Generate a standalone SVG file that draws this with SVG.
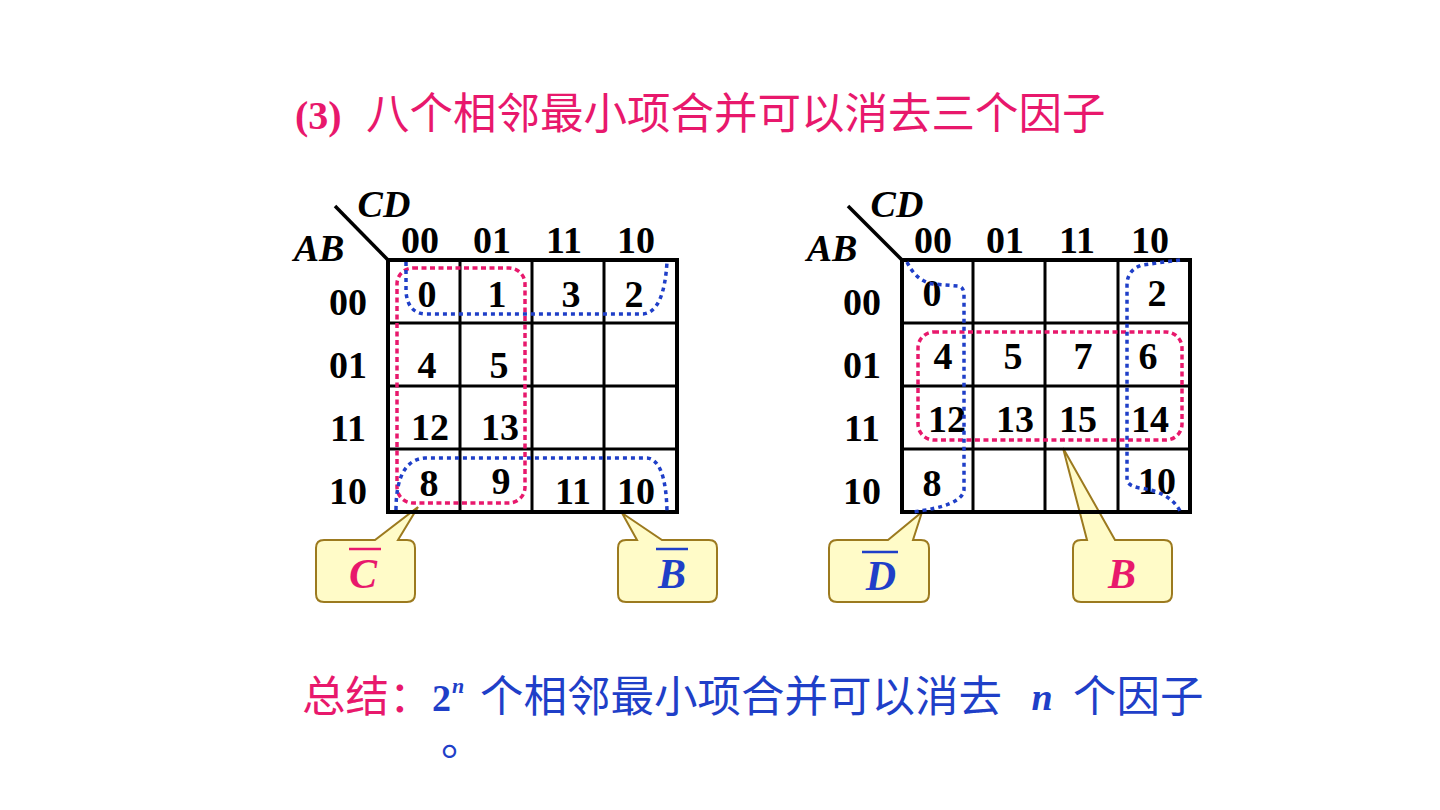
<svg xmlns="http://www.w3.org/2000/svg" width="1440" height="810" viewBox="0 0 1440 810">
<style>
.cjk{font-family:"Noto Sans CJK SC",sans-serif;font-size:43.5px}
.num{font-family:"Liberation Serif",serif;font-weight:bold;font-size:38px;fill:#000;text-anchor:middle}
.var{font-family:"Liberation Serif",serif;font-weight:bold;font-style:italic;font-size:38px;fill:#000;text-anchor:middle}
.lbl{font-family:"Liberation Serif",serif;font-weight:bold;font-style:italic;font-size:42px;text-anchor:middle}
.grid{fill:none;stroke:#000;stroke-width:3}
.frame{fill:none;stroke:#000;stroke-width:4}
.red{fill:none;stroke:#E8186C;stroke-width:3.5;stroke-dasharray:5 3.5}
.blue{fill:none;stroke:#1F3FC8;stroke-width:3.5;stroke-dasharray:4 4}
.callout{fill:#FFFBC8;stroke:#9C7A1F;stroke-width:2}
.pink{fill:#E8186C}
.bl{fill:#1F3FC8}
</style>
<rect width="1440" height="810" fill="#fff"/>

<g id="title">
<text x="295" y="129" font-family="Liberation Serif" font-weight="bold" font-size="40" class="pink">(3)</text>
<text x="366" y="129" class="cjk pink">八个相邻最小项合并可以消去三个因子</text>
</g>

<g id="callout-left-C">
<path class="callout" d="M324,540 L375,540 L418,507 L398,540 L407,540 Q415,540 415,548 L415,594 Q415,602 407,602 L324,602 Q316,602 316,594 L316,548 Q316,540 324,540 Z"/>
<line x1="349" y1="549" x2="381" y2="549" stroke="#E8186C" stroke-width="2.5"/>
<text x="363" y="588" class="lbl pink">C</text>
</g>
<g id="callout-left-B">
<path class="callout" d="M626,540 L637,540 L622,513 L662,540 L709,540 Q717,540 717,548 L717,594 Q717,602 709,602 L626,602 Q618,602 618,594 L618,548 Q618,540 626,540 Z"/>
<line x1="656" y1="549" x2="688" y2="549" stroke="#1F3FC8" stroke-width="2.5"/>
<text x="672" y="588" class="lbl bl">B</text>
</g>
<g id="callout-right-D">
<path class="callout" d="M837,540 L888,540 L922,512 L913,540 L921,540 Q929,540 929,548 L929,594 Q929,602 921,602 L837,602 Q829,602 829,594 L829,548 Q829,540 837,540 Z"/>
<line x1="862" y1="552" x2="898" y2="552" stroke="#1F3FC8" stroke-width="2.5"/>
<text x="881" y="590" class="lbl bl">D</text>
</g>
<g id="callout-right-B">
<path class="callout" d="M1081,540 L1087,540 L1063,448 L1115,540 L1164,540 Q1172,540 1172,548 L1172,594 Q1172,602 1164,602 L1081,602 Q1073,602 1073,594 L1073,548 Q1073,540 1081,540 Z"/>
<text x="1122" y="588" class="lbl pink">B</text>
</g>

<g id="kmap-left">
<line x1="335" y1="206" x2="388" y2="260" stroke="#000" stroke-width="3.5"/>
<text x="384" y="217" class="var">CD</text>
<text x="319" y="261" class="var">AB</text>
<text x="420" y="253" class="num">00</text>
<text x="492" y="253" class="num">01</text>
<text x="564" y="253" class="num">11</text>
<text x="636" y="253" class="num">10</text>
<text x="348" y="315" class="num">00</text>
<text x="348" y="378" class="num">01</text>
<text x="348" y="441" class="num">11</text>
<text x="348" y="504" class="num">10</text>
<path class="grid" d="M460,260V512M532,260V512M604,260V512M388,323H677M388,386H677M388,449H677"/>
<rect class="frame" x="388" y="260" width="289" height="252"/>
<text x="427" y="307" class="num">0</text>
<text x="497" y="307" class="num">1</text>
<text x="571" y="307" class="num">3</text>
<text x="634" y="307" class="num">2</text>
<text x="427" y="378" class="num">4</text>
<text x="499" y="378" class="num">5</text>
<text x="430" y="440" class="num">12</text>
<text x="500" y="440" class="num">13</text>
<text x="429" y="496" class="num">8</text>
<text x="501" y="494" class="num">9</text>
<text x="573" y="504" class="num">11</text>
<text x="636" y="504" class="num">10</text>
</g>

<g id="kmap-right">
<line x1="848" y1="206" x2="902" y2="260" stroke="#000" stroke-width="3.5"/>
<text x="897" y="217" class="var">CD</text>
<text x="832" y="261" class="var">AB</text>
<text x="933" y="253" class="num">00</text>
<text x="1005" y="253" class="num">01</text>
<text x="1077" y="253" class="num">11</text>
<text x="1150" y="253" class="num">10</text>
<text x="862" y="315" class="num">00</text>
<text x="862" y="378" class="num">01</text>
<text x="862" y="441" class="num">11</text>
<text x="862" y="504" class="num">10</text>
<path class="grid" d="M973,260V512M1045,260V512M1118,260V512M902,323H1190M902,386H1190M902,449H1190"/>
<rect class="frame" x="902" y="260" width="288" height="252"/>
<text x="932" y="306" class="num">0</text>
<text x="1157" y="306" class="num">2</text>
<text x="943" y="369" class="num">4</text>
<text x="1013" y="369" class="num">5</text>
<text x="1083" y="369" class="num">7</text>
<text x="1148" y="369" class="num">6</text>
<text x="947" y="432" class="num">12</text>
<text x="1015" y="432" class="num">13</text>
<text x="1078" y="432" class="num">15</text>
<text x="1150" y="432" class="num">14</text>
<text x="932" y="496" class="num">8</text>
<text x="1157" y="494" class="num">10</text>
</g>

<g id="connectors">
<rect class="red" x="397" y="268" width="128" height="235" rx="16"/>
<path class="blue" d="M406,262 L406,292 Q408,313 425,314 L643,314 Q664,312 667,262"/>
<path class="blue" d="M396,510 Q396,460 425,458 L647,458 Q666,460 667,512"/>
<rect class="red" x="918" y="332" width="264" height="108" rx="16"/>
<path class="blue" d="M907,262 Q916,281 933,284 L958,286 Q964,287 964,295 L964,490 Q962,506 912,512"/>
<path class="blue" d="M1180,260 L1142,265 Q1127,270 1127,285 L1127,480 Q1128,486 1140,488 Q1170,492 1180,511"/>
</g>

<g id="summary">
<text x="302" y="712" class="cjk pink" font-size="43">总结：</text>
<text x="432" y="711" font-family="Liberation Serif" font-weight="bold" font-size="38" class="bl">2</text>
<text x="452" y="693" font-family="Liberation Serif" font-weight="bold" font-style="italic" font-size="22" class="bl">n</text>
<text x="480" y="712" class="cjk bl">个相邻最小项合并可以消去</text>
<text x="1042" y="710" font-family="Liberation Serif" font-weight="bold" font-style="italic" font-size="38" text-anchor="middle" class="bl">n</text>
<text x="1073" y="712" class="cjk bl">个因子</text>
<text x="441" y="755" class="cjk bl">。</text>
</g>
</svg>
